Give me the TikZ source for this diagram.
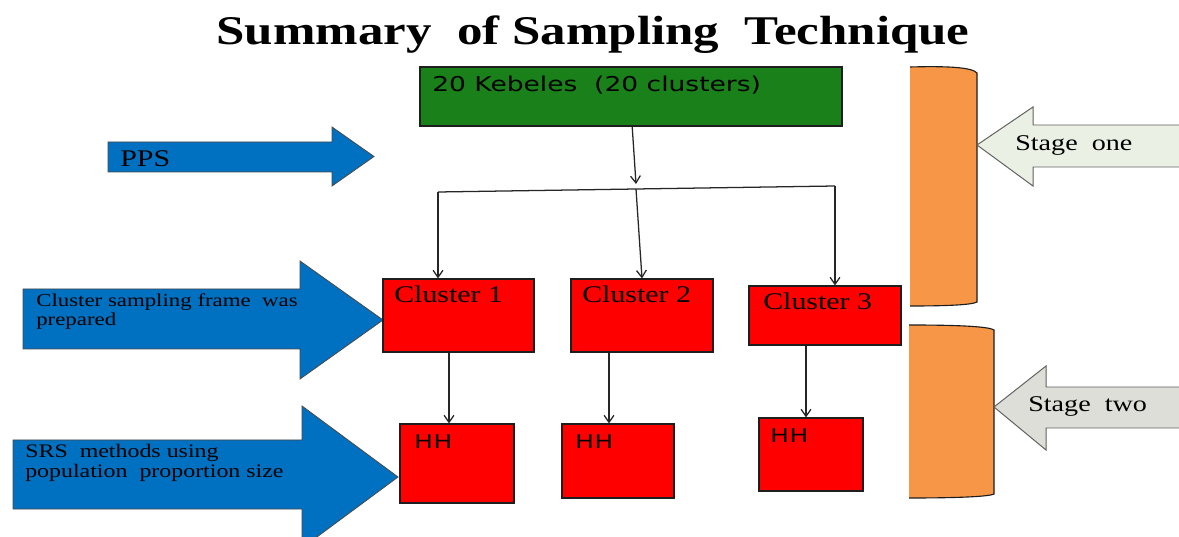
\documentclass[tikz,border=0pt]{standalone}
\usepackage{fontspec}
\usetikzlibrary{arrows.meta}
\newfontfamily\tserif[FakeStretch=1.25]{Liberation Serif}
\newfontfamily\tsans[FakeStretch=1.3]{DejaVu Sans}
\newfontfamily\hhsans[FakeStretch=1.3,LetterSpace=4]{DejaVu Sans}
\definecolor{kgreen}{RGB}{26,128,26}
\definecolor{kred}{RGB}{255,0,0}
\definecolor{kblue}{RGB}{0,112,192}
\definecolor{korange}{RGB}{247,150,70}
\definecolor{stageone}{RGB}{234,240,228}
\definecolor{stagetwo}{RGB}{221,222,215}
\definecolor{edge}{RGB}{30,30,30}
\tikzset{
  box/.style={draw=edge, line width=0.8pt, inner sep=0pt},
  conn/.style={draw=black!85, line width=0.9pt, -{Straight Barb[length=5pt,width=7pt]}},
  plain/.style={draw=black!85, line width=0.9pt},
  blockarrow/.style={fill=kblue, draw=edge!80, line width=0.6pt},
  stagearrow/.style={draw=edge!70, line width=0.7pt},
  txt/.style={anchor=base west, inner sep=0pt},
}
\begin{document}
\begin{tikzpicture}[x=0.025cm,y=-0.025cm]
\clip (0,0) rectangle (1179,537);
\fill[white] (0,0) rectangle (1179,537);

% title
\node[anchor=base, inner sep=0pt, font=\tserif\bfseries\fontsize{29}{32}\selectfont] (title) at (593,45) {Summary\ \ of Sampling\ \ Technique};

% orange brackets
\fill[korange] (910,67) .. controls (945,66) and (972,67) .. (977,73) -- (977,302) .. controls (972,305) and (945,306) .. (910,306) -- cycle;
\draw[edge, line width=0.8pt] (910,67) .. controls (945,66) and (972,67) .. (977,73) -- (977,302) .. controls (972,305) and (945,306) .. (910,306);
\fill[korange] (909,325) .. controls (950,325) and (988,326) .. (994,330) -- (994,494) .. controls (988,497) and (950,498) .. (909,498) -- cycle;
\draw[edge, line width=0.8pt] (909,325) .. controls (950,325) and (988,326) .. (994,330) -- (994,494) .. controls (988,497) and (950,498) .. (909,498);

% stage arrows
\draw[stagearrow, fill=stageone] (1190,125) -- (1033,125) -- (1033,107) -- (977,145) -- (1033,186) -- (1033,167) -- (1190,167);
\draw[stagearrow, fill=stagetwo] (1190,387) -- (1046,387) -- (1046,366) -- (994,407) -- (1046,450) -- (1046,428) -- (1190,428);
\node[txt, font=\tserif\fontsize{16}{18}\selectfont] (s1) at (1015,151) {Stage\ \ one};
\node[txt, font=\tserif\fontsize{16}{18}\selectfont] (s2) at (1028,412) {Stage\ \ two};

% blue arrows
\draw[blockarrow] (108,142) -- (332,142) -- (332,127) -- (374,156.5) -- (332,186) -- (332,172) -- (108,172) -- cycle;
\draw[blockarrow] (23,289) -- (300,289) -- (300,261) -- (383,320) -- (300,379) -- (300,349) -- (23,349) -- cycle;
\draw[blockarrow] (13,440) -- (302,440) -- (302,406) -- (398,477) -- (302,548) -- (302,509) -- (13,509) -- cycle;
\node[txt, font=\tserif\fontsize{17}{18}\selectfont] (pps) at (120,167) {PPS};
\node[txt, font=\tserif\fontsize{13}{14.5}\selectfont, align=left, anchor=north west] (csf) at (36,293) {Cluster sampling frame\ \ was\\[-1pt]prepared};
\node[txt, font=\tserif\fontsize{13.6}{15}\selectfont, align=left, anchor=north west] (srs) at (25,444) {SRS\ \ methods using\\[-1pt]population\ \ proportion size};

% boxes
\node[box, fill=kgreen, minimum width=10.55cm, minimum height=1.475cm] (kebele) at (631,96.5) {};
\node[box, fill=kred, minimum width=3.775cm, minimum height=1.825cm] (c1) at (458.5,315.5) {};
\node[box, fill=kred, minimum width=3.55cm, minimum height=1.825cm] (c2) at (642,315.5) {};
\node[box, fill=kred, minimum width=3.8cm, minimum height=1.475cm] (c3) at (825,315.5) {};
\node[box, fill=kred, minimum width=2.85cm, minimum height=1.975cm] (h1) at (457,463.5) {};
\node[box, fill=kred, minimum width=2.8cm, minimum height=1.85cm] (h2) at (618,461) {};
\node[box, fill=kred, minimum width=2.6cm, minimum height=1.825cm] (h3) at (811,454.5) {};

\node[txt, font=\tsans\fontsize{14.5}{16}\selectfont] at (432,92) {20 Kebeles\ \ (20 clusters)};
\node[txt, font=\tserif\fontsize{17}{20}\selectfont] at (394,303) {Cluster 1};
\node[txt, font=\tserif\fontsize{17}{20}\selectfont] at (582,303) {Cluster 2};
\node[txt, font=\tserif\fontsize{17}{20}\selectfont] at (763,310) {Cluster 3};
\node[txt, font=\hhsans\fontsize{13.5}{14}\selectfont] at (414,448) {HH};
\node[txt, font=\hhsans\fontsize{13.5}{14}\selectfont] at (575,448) {HH};
\node[txt, font=\hhsans\fontsize{13.5}{14}\selectfont] at (770,442) {HH};

% connectors
\coordinate (j) at (636,189);
\coordinate (jl) at (438,192);
\coordinate (jr) at (835,186);
\coordinate (a1) at (449,0);
\coordinate (a2) at (609,0);
\coordinate (a3) at (806,0);
\draw[conn] ([xshift=0.03cm]kebele.south) -- (636,184);
\draw[plain] (jl) -- (j) -- (jr);
\draw[conn] (jl) -- (jl |- c1.north);
\draw[conn] (j) -- (c2.north);
\draw[conn] (jr) -- (jr |- c3.north);
\draw[conn] (c1.south -| a1) -- (h1.north -| a1);
\draw[conn] (c2.south -| a2) -- (h2.north -| a2);
\draw[conn] (c3.south -| a3) -- (h3.north -| a3);
\end{tikzpicture}
\end{document}
